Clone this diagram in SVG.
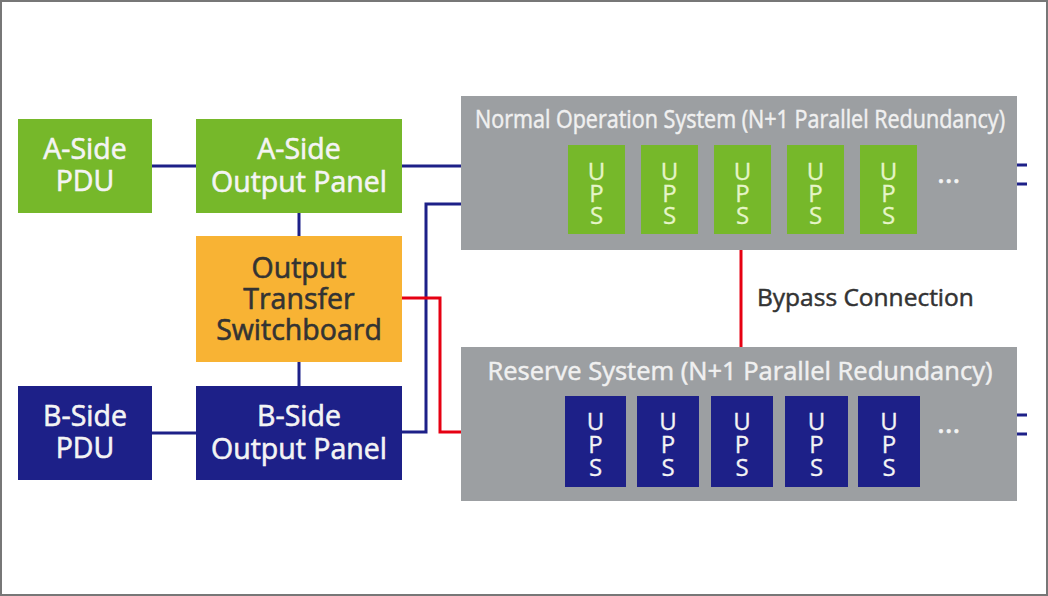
<svg xmlns="http://www.w3.org/2000/svg" width="1048" height="596" viewBox="0 0 1048 596">
<style>
.g{fill:#76b82a}
.b{fill:#1d2088}
.o{fill:#f8b334}
.sys{fill:#9c9fa2}
.t{font-family:"Open Sans","Liberation Sans",sans-serif;font-size:28.5px;fill:#f4f4f4;stroke:#f4f4f4;stroke-width:0.6;text-anchor:middle}
.td{font-family:"Open Sans","Liberation Sans",sans-serif;font-size:28.5px;fill:#333;stroke:#333;stroke-width:0.6;text-anchor:middle}
.st{font-family:"Open Sans","Liberation Sans",sans-serif;font-size:25.5px;fill:#f0f0f0;stroke:#f0f0f0;stroke-width:0.5;text-anchor:middle}
.u{font-family:"Open Sans","Liberation Sans",sans-serif;font-size:24px;fill:#f4f4f4;stroke:#f4f4f4;stroke-width:0.3;text-anchor:middle}
.ug{fill:#e6f5c8;stroke:#e6f5c8}
.dots{font-family:"Open Sans","Liberation Sans",sans-serif;font-size:30px;fill:#f4f4f4;stroke:#f4f4f4;stroke-width:0.6}
.ln{fill:none;stroke:#1d2088;stroke-width:3}
.rd{fill:none;stroke:#e60012;stroke-width:3}
.lbl{font-family:"Open Sans","Liberation Sans",sans-serif;font-size:24.5px;fill:#333;stroke:#333;stroke-width:0.5}
</style>
<rect x="1" y="1" width="1046" height="594" fill="#fff" stroke="#777" stroke-width="2"/>
<g id="connectors">
<path class="ln" d="M152 166H196"/>
<path class="ln" d="M402 166H461"/>
<path class="ln" d="M299 213V236"/>
<path class="ln" d="M299 362V386"/>
<path class="ln" d="M152 433H196"/>
<path class="ln" d="M402 432H426V204H461"/>
<path class="rd" d="M402 298H440V432H461"/>
<path class="rd" d="M741 250V347"/>
<path class="ln" d="M1017 165H1027M1017 184H1027"/>
<path class="ln" d="M1017 415H1027M1017 434H1027"/>
<text class="lbl" x="757" y="306">Bypass Connection</text>
</g>
<g id="a-pdu">
<rect class="g" x="18" y="119" width="134" height="94"/>
<text class="t" x="85" y="159">A-Side</text>
<text class="t" x="85" y="191">PDU</text>
</g>
<g id="a-panel">
<rect class="g" x="196" y="119" width="206" height="94"/>
<text class="t" x="299" y="159">A-Side</text>
<text class="t" x="299" y="192">Output Panel</text>
</g>
<g id="switchboard">
<rect class="o" x="196" y="236" width="206" height="126"/>
<text class="td" x="299" y="278">Output</text>
<text class="td" x="299" y="309">Transfer</text>
<text class="td" x="299" y="340">Switchboard</text>
</g>
<g id="b-pdu">
<rect class="b" x="18" y="386" width="134" height="94"/>
<text class="t" x="85" y="426">B-Side</text>
<text class="t" x="85" y="458">PDU</text>
</g>
<g id="b-panel">
<rect class="b" x="196" y="386" width="206" height="94"/>
<text class="t" x="299" y="426">B-Side</text>
<text class="t" x="299" y="459">Output Panel</text>
</g>
<g id="normal-system">
<rect class="sys" x="461" y="96" width="556" height="154"/>
<text class="st" x="740" y="128" textLength="530" lengthAdjust="spacingAndGlyphs">Normal Operation System (N+1 Parallel Redundancy)</text>
<g id="ups-n1"><rect class="g" x="568" y="145" width="57" height="89"/><text class="u ug" x="596.5" y="180">U<tspan x="596.5" dy="22">P</tspan><tspan x="596.5" dy="22">S</tspan></text></g>
<g id="ups-n2"><rect class="g" x="641" y="145" width="57" height="89"/><text class="u ug" x="669.5" y="180">U<tspan x="669.5" dy="22">P</tspan><tspan x="669.5" dy="22">S</tspan></text></g>
<g id="ups-n3"><rect class="g" x="714" y="145" width="57" height="89"/><text class="u ug" x="742.5" y="180">U<tspan x="742.5" dy="22">P</tspan><tspan x="742.5" dy="22">S</tspan></text></g>
<g id="ups-n4"><rect class="g" x="787" y="145" width="57" height="89"/><text class="u ug" x="815.5" y="180">U<tspan x="815.5" dy="22">P</tspan><tspan x="815.5" dy="22">S</tspan></text></g>
<g id="ups-n5"><rect class="g" x="860" y="145" width="57" height="89"/><text class="u ug" x="888.5" y="180">U<tspan x="888.5" dy="22">P</tspan><tspan x="888.5" dy="22">S</tspan></text></g>
<text class="dots" x="937" y="183">…</text>
</g>
<g id="reserve-system">
<rect class="sys" x="461" y="347" width="556" height="154"/>
<text class="st" x="740" y="380">Reserve System (N+1 Parallel Redundancy)</text>
<g id="ups-r1"><rect class="b" x="565" y="396" width="61" height="91"/><text class="u" x="595.5" y="430">U<tspan x="595.5" dy="23">P</tspan><tspan x="595.5" dy="23">S</tspan></text></g>
<g id="ups-r2"><rect class="b" x="637" y="396" width="62" height="91"/><text class="u" x="668" y="430">U<tspan x="668" dy="23">P</tspan><tspan x="668" dy="23">S</tspan></text></g>
<g id="ups-r3"><rect class="b" x="711" y="396" width="62" height="91"/><text class="u" x="742" y="430">U<tspan x="742" dy="23">P</tspan><tspan x="742" dy="23">S</tspan></text></g>
<g id="ups-r4"><rect class="b" x="785" y="396" width="63" height="91"/><text class="u" x="816.5" y="430">U<tspan x="816.5" dy="23">P</tspan><tspan x="816.5" dy="23">S</tspan></text></g>
<g id="ups-r5"><rect class="b" x="858" y="396" width="62" height="91"/><text class="u" x="889" y="430">U<tspan x="889" dy="23">P</tspan><tspan x="889" dy="23">S</tspan></text></g>
<text class="dots" x="937" y="433">…</text>
</g>
</svg>
